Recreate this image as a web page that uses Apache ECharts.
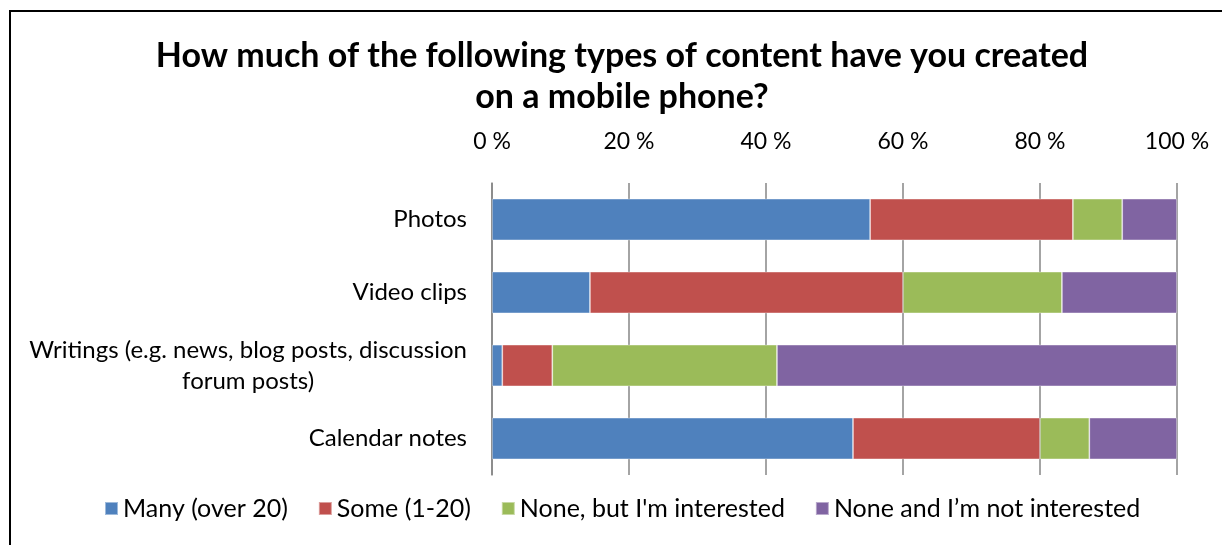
<!DOCTYPE html>
<html>
<head>
<meta charset="utf-8">
<script src="https://cdn.jsdelivr.net/npm/echarts@6/dist/echarts.min.js"></script>
<style>
  html, body { margin: 0; padding: 0; background: #fff; }
  #chart { width: 1222px; height: 545px; }
</style>
</head>
<body>
<div id="chart"></div>
<script>
// Survey answers, share of respondents (%)
const categories = [
  'Photos',
  'Video clips',
  'Writings (e.g. news, blog posts, discussion\nforum posts)',
  'Calendar notes'
];
const seriesNames = [
  'Many (over 20)',
  'Some (1-20)',
  'None, but I\'m interested',
  'None and I\u2019m not interested'
];
const many       = [55.2, 14.3, 1.5, 52.7];
const some       = [29.6, 45.7, 7.3, 27.3];
const interested = [7.2, 23.2, 32.8, 7.2];
const notInterested = [8.0, 16.8, 58.4, 12.8];
const tickValues = [0, 20, 40, 60, 80, 100];

const colors = ['#4F81BD', '#C0504D', '#9BBB59', '#8064A2'];
const valueSets = [many, some, interested, notInterested];
const FONT = 'Lato, "Open Sans", sans-serif';

const chart = echarts.init(document.getElementById('chart'), null, { renderer: 'canvas' });

chart.setOption({
  animation: false,
  backgroundColor: '#ffffff',
  title: {
    text: 'How much of the following types of content have you created\non a mobile phone?',
    left: 617,
    top: 31,
    textAlign: 'center',
    textStyle: {
      fontFamily: FONT,
      fontWeight: 'bold',
      fontSize: 34,
      lineHeight: 41,
      color: '#000'
    }
  },
  graphic: [{
    type: 'rect',
    shape: { x: 10, y: 11, width: 1300, height: 700 },
    style: { fill: 'none', stroke: '#000', lineWidth: 2 },
    silent: true,
    z: 100
  }],
  legend: {
    left: 104,
    top: 496,
    padding: 0,
    itemWidth: 13,
    itemHeight: 13,
    itemGap: 30,
    icon: 'rect',
    textStyle: { fontFamily: FONT, fontSize: 25, color: '#000' },
    data: seriesNames
  },
  grid: {
    left: 492,
    right: 45,
    top: 183,
    height: 292,
    containLabel: false
  },
  xAxis: {
    type: 'value',
    position: 'top',
    min: tickValues[0],
    max: tickValues[tickValues.length - 1],
    interval: 20,
    axisLine: { show: false },
    axisTick: { show: false },
    splitLine: { show: true, lineStyle: { color: '#868686', width: 1.5 } },
    axisLabel: {
      margin: 30,
      fontFamily: FONT,
      fontSize: 23,
      color: '#000',
      formatter: '{value} %'
    }
  },
  yAxis: {
    type: 'category',
    inverse: true,
    data: categories,
    axisLine: { show: true, lineStyle: { color: '#868686', width: 1.5 } },
    axisTick: { show: false },
    axisLabel: {
      margin: 25,
      fontFamily: FONT,
      fontSize: 24,
      color: '#000',
      lineHeight: 31,
      formatter: function (v) {
        return v.split('\n').map(function (l) { return '{c|' + l + '}'; }).join('\n');
      },
      rich: {
        c: { align: 'center', fontFamily: FONT, fontSize: 24, lineHeight: 31, color: '#000' }
      }
    }
  },
  series: valueSets.map(function (vals, i) {
    return {
      name: seriesNames[i],
      type: 'bar',
      stack: 'total',
      barCategoryGap: '43%',
      data: vals,
      itemStyle: {
        color: colors[i],
        borderColor: 'rgba(255,255,255,0.45)',
        borderWidth: 0.8
      }
    };
  })
});
</script>
</body>
</html>
